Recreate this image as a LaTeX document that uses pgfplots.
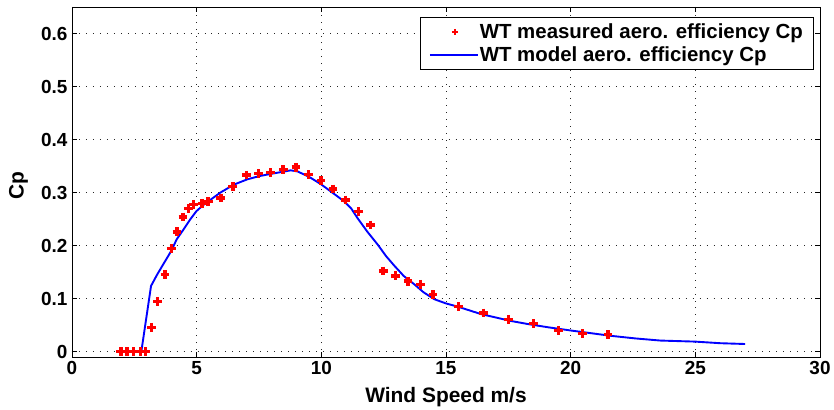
\documentclass[border=0pt]{standalone}
\usepackage{pgfplots}
\pgfplotsset{compat=1.18}
\usepackage{fontspec}
\setmainfont{Liberation Sans}
\pgfplotsset{
  legmark/.style={legend image code/.code={\draw[mark repeat=2,mark phase=2,##1,mark size=3pt,line width=2.4pt] plot coordinates {(0bp,0bp) (25bp,0bp) (48bp,0bp)};}},
  legline/.style={legend image code/.code={\draw[##1] (0bp,0bp) -- (48bp,0bp);}},
}
\begin{document}
\begin{tikzpicture}
\useasboundingbox (-72bp,-53bp) rectangle (762bp,357bp);
\begin{axis}[
  scale only axis,
  width=748bp, height=350bp,
  xmin=0, xmax=30, ymin=-0.01, ymax=0.65,
  xtick={0,5,...,30},
  ytick={0,0.1,0.2,0.3,0.4,0.5,0.6},
  grid=major,
  major grid style={black!85, line width=0.7pt, dash pattern=on 0.7pt off 6.3pt},
  tick align=inside,
  major tick length=5bp,
  axis line style={black, line width=0.9pt},
  tick style={black, line width=0.7pt},
  /pgf/number format/assume math mode=true,
  tick label style={font=\bfseries\fontsize{19}{21}\selectfont},
  label style={font=\bfseries\fontsize{21}{23}\selectfont},
  xticklabel style={yshift=-1bp},
  yticklabel style={xshift=-1bp},
  xlabel={Wind Speed m/s},
  ylabel={Cp},
  xlabel style={at={(axis description cs:0.5,0)}, anchor=center, yshift=-40bp},
  ylabel style={at={(axis description cs:-0.0715,0.49)}, anchor=center},
  legend style={at={(rel axis cs:0.991,0.97)}, anchor=north east,
    font=\bfseries\fontsize{20.5}{22}\selectfont, draw=black, line width=0.7pt,
    inner xsep=9bp, inner ysep=4bp, row sep=3bp,
    nodes={inner xsep=1bp}},
  legend cell align=left,
]
\addplot[only marks, mark=+, mark size=4.4pt, red, line width=3.4pt, legmark] coordinates {
(1.96,0) (2.21,0) (2.47,0) (2.74,0) (2.95,0)
(3.2,0.046) (3.43,0.095) (3.73,0.145) (3.98,0.195) (4.21,0.226)
(4.45,0.254) (4.68,0.270) (4.88,0.278) (5.22,0.280) (5.46,0.283)
(5.97,0.290) (6.45,0.311) (6.99,0.333) (7.48,0.336) (7.96,0.338)
(8.47,0.343) (8.98,0.348) (9.48,0.334) (9.99,0.323) (10.47,0.307)
(10.98,0.286) (11.49,0.264) (11.97,0.239) (12.48,0.152) (12.97,0.143)
(13.48,0.133) (13.98,0.127) (14.48,0.108) (15.5,0.085) (16.5,0.073)
(17.5,0.061) (18.5,0.053) (19.5,0.040) (20.48,0.034) (21.5,0.032)
};
\addlegendentry{WT measured aero. efficiency Cp}
\addplot[blue, line width=1.9pt, mark=none, legline] coordinates {
(2.78,0) (3.17,0.124) (3.41,0.145) (3.7,0.168) (3.98,0.19) (4.2,0.212)
(4.48,0.231) (4.75,0.25) (4.99,0.265) (5.25,0.276) (5.48,0.284)
(5.95,0.30) (6.49,0.315) (7.03,0.325) (7.5,0.331) (7.83,0.334)
(8.3,0.338) (8.77,0.342) (9.04,0.340) (9.5,0.330) (9.98,0.316)
(10.5,0.298) (10.9,0.284) (11.2,0.27) (11.45,0.252) (11.85,0.226)
(12.26,0.202) (12.6,0.18) (12.93,0.162) (13.3,0.143) (13.73,0.127)
(14.1,0.112) (14.53,0.099) (15.0,0.091) (15.47,0.085) (16.0,0.077)
(16.4,0.071) (16.95,0.065) (17.6,0.058) (18.3,0.052) (19.1,0.046)
(20.0,0.040) (20.8,0.035) (21.6,0.030) (22.6,0.025) (23.6,0.021)
(24.3,0.020) (25.0,0.019) (26.0,0.016) (27.0,0.0145)
};
\addlegendentry{WT model aero. efficiency Cp}
\end{axis}
\end{tikzpicture}
\end{document}
